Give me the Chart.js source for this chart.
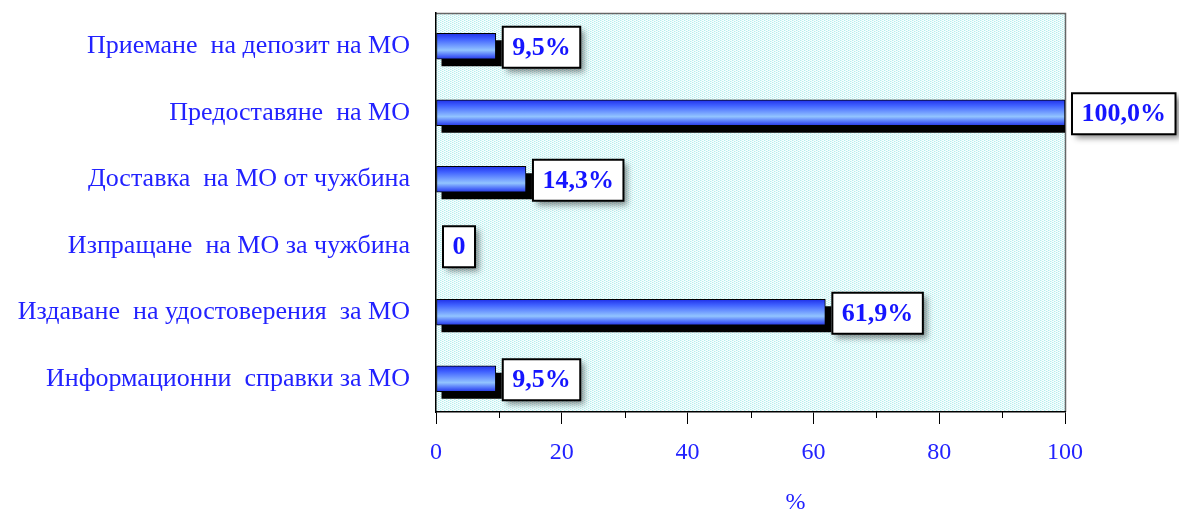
<!DOCTYPE html>
<html>
<head>
<meta charset="utf-8">
<script src="https://cdn.jsdelivr.net/npm/chart.js@4.4.1/dist/chart.umd.min.js"></script>
<style>
  html, body { margin: 0; padding: 0; background: #fff; }
  #wrap { width: 1179px; height: 514px; }
</style>
</head>
<body>
<div id="wrap"><canvas id="barChart" width="1179" height="514"></canvas></div>
<script>
// категории и стойности (%)
const categories = [
  "Приемане  на депозит на МО",
  "Предоставяне  на МО",
  "Доставка  на МО от чужбина",
  "Изпращане  на МО за чужбина",
  "Издаване  на удостоверения  за МО",
  "Информационни  справки за МО"
];
const values = [9.5, 100, 14.3, 0, 61.9, 9.5];
const xTicks = [0, 20, 40, 60, 80, 100];
const axisTitle = "%";

const blue = '#2222ff';
const serif = "'Liberation Serif', 'Times New Roman', serif";
const barH = 26;

function formatValue(v) {
  if (v === 0) return '0';
  return v.toFixed(1).replace('.', ',') + '%';
}

// точков фон на графичната област
function makePattern(ctx) {
  const c = document.createElement('canvas');
  c.width = 4; c.height = 2;
  const p = c.getContext('2d');
  p.fillStyle = '#f6fefe';
  p.fillRect(0, 0, 4, 2);
  p.fillStyle = '#b4eeee';
  p.fillRect(0, 0, 1, 1);
  p.fillRect(2, 1, 1, 1);
  p.fillStyle = '#dcf7f7';
  p.fillRect(1, 0, 1, 1);
  p.fillRect(3, 1, 1, 1);
  return ctx.createPattern(c, 'repeat');
}

function barGradient(context) {
  const chart = context.chart;
  if (!chart.chartArea || !chart.scales.y) return '#6699ff';
  const yc = chart.scales.y.getPixelForValue(context.dataIndex);
  const g = chart.ctx.createLinearGradient(0, yc - barH / 2, 0, yc + barH / 2);
  g.addColorStop(0, '#1f30e8');
  g.addColorStop(0.22, '#3f60ff');
  g.addColorStop(0.65, '#92c4ff');
  g.addColorStop(0.86, '#4c6cf8');
  g.addColorStop(1, '#2436e4');
  return g;
}

const plotFrame = {
  id: 'plotFrame',
  beforeDraw(chart) {
    const { ctx, chartArea: a } = chart;
    ctx.save();
    ctx.fillStyle = makePattern(ctx);
    ctx.fillRect(a.left, a.top, a.right - a.left, a.bottom - a.top);
    ctx.strokeStyle = '#666';
    ctx.lineWidth = 1.5;
    ctx.beginPath();
    ctx.moveTo(a.left, a.top + 0.5);
    ctx.lineTo(a.right + 0.5, a.top + 0.5);
    ctx.lineTo(a.right + 0.5, a.bottom);
    ctx.stroke();
    ctx.restore();
  },
  beforeDatasetsDraw(chart) {
    // черна сянка под всяка лента
    const { ctx, chartArea: a } = chart;
    const meta = chart.getDatasetMeta(0);
    ctx.save();
    ctx.beginPath();
    ctx.rect(a.left, a.top, a.right - a.left, a.bottom - a.top);
    ctx.clip();
    ctx.fillStyle = '#000';
    meta.data.forEach((bar, i) => {
      if (!values[i]) return;
      const { x, y, base, height } = bar.getProps(['x', 'y', 'base', 'height'], true);
      ctx.fillRect(base + 5, y - height / 2 + 7, x - base + 1, height);
    });
    ctx.restore();
  },
  afterDatasetsDraw(chart) {
    const { ctx } = chart;
    const meta = chart.getDatasetMeta(0);
    ctx.save();
    ctx.font = 'bold 26px ' + serif;
    ctx.textBaseline = 'middle';
    meta.data.forEach((bar, i) => {
      const { x, y, base } = bar.getProps(['x', 'y', 'base'], true);
      const text = formatValue(values[i]);
      const w = ctx.measureText(text).width + 19;
      const h = 41;
      const bx = (values[i] ? x : base) + 7;
      const by = y - h / 2 + 1;
      ctx.save();
      ctx.shadowColor = 'rgba(0,0,0,0.45)';
      ctx.shadowBlur = 6;
      ctx.shadowOffsetX = 4;
      ctx.shadowOffsetY = 4;
      ctx.fillStyle = '#fff';
      ctx.fillRect(bx, by, w, h);
      ctx.restore();
      ctx.strokeStyle = '#000';
      ctx.lineWidth = 2;
      ctx.strokeRect(bx, by, w, h);
      ctx.fillStyle = '#1515ff';
      ctx.textAlign = 'center';
      ctx.fillText(text, bx + w / 2, by + h / 2 + 1);
    });
    ctx.restore();
  },
  afterDraw(chart) {
    const { ctx, chartArea: a } = chart;
    const xs = chart.scales.x;
    ctx.save();
    // малки деления през 10
    ctx.strokeStyle = '#000';
    ctx.lineWidth = 1;
    for (let v = 10; v < 100; v += 20) {
      const px = Math.round(xs.getPixelForValue(v)) + 0.5;
      ctx.beginPath();
      ctx.moveTo(px, a.bottom);
      ctx.lineTo(px, a.bottom + 6);
      ctx.stroke();
    }
    ctx.fillStyle = blue;
    ctx.font = '24px ' + serif;
    ctx.textAlign = 'center';
    ctx.textBaseline = 'middle';
    ctx.fillText(axisTitle, (a.left + a.right) / 2 + 45, 503);
    ctx.restore();
  }
};

const config = {
  type: 'bar',
  data: {
    labels: categories,
    datasets: [{
      data: values,
      backgroundColor: barGradient,
      borderColor: '#000',
      borderWidth: 1,
      borderSkipped: false,
      barThickness: barH
    }]
  },
  options: {
    indexAxis: 'y',
    responsive: false,
    animation: false,
    layout: { padding: { top: 13, right: 114, left: 0, bottom: 0 } },
    plugins: {
      legend: { display: false },
      tooltip: { enabled: false }
    },
    scales: {
      x: {
        min: 0,
        max: 100,
        afterBuildTicks(scale) {
          scale.ticks = xTicks.map(v => ({ value: v }));
        },
        afterFit(scale) {
          scale.height = 102;
          scale.paddingLeft = 0;
          scale.paddingRight = 0;
        },
        grid: {
          drawOnChartArea: false,
          drawTicks: true,
          tickLength: 12,
          tickColor: '#000'
        },
        border: { display: true, color: '#000', width: 1.5 },
        ticks: {
          color: blue,
          font: { family: serif, size: 24 },
          padding: 14,
          maxRotation: 0
        }
      },
      y: {
        afterFit(scale) {
          scale.width = 436;
          scale.paddingTop = 0;
          scale.paddingBottom = 0;
        },
        grid: { display: false },
        border: { display: true, color: '#000', width: 1.5 },
        ticks: {
          color: blue,
          font: { family: serif, size: 26 },
          padding: 18
        }
      }
    }
  },
  plugins: [plotFrame]
};

const ctx = document.getElementById('barChart').getContext('2d');
new Chart(ctx, config);
</script>
</body>
</html>
